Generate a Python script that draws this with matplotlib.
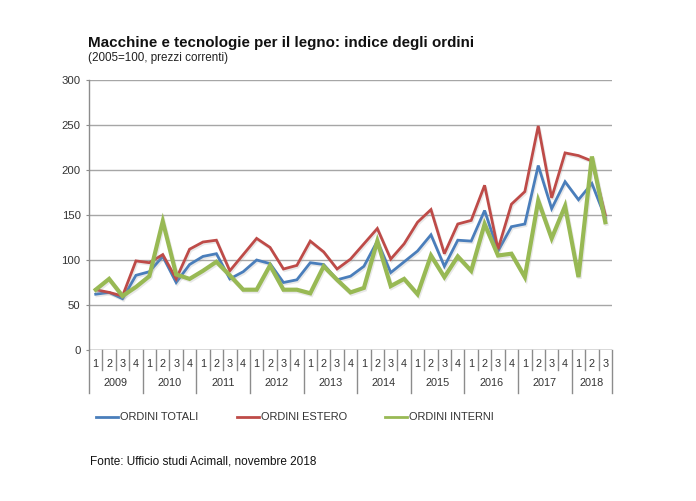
import matplotlib
matplotlib.use("Agg")
import matplotlib.pyplot as plt
import matplotlib.patheffects as pe
from matplotlib.lines import Line2D
import numpy as np

plt.rcParams['font.family'] = ['Liberation Sans', 'DejaVu Sans']

quarters = ['1', '2', '3', '4'] * 9 + ['1', '2', '3']
years = ['2009', '2010', '2011', '2012', '2013', '2014', '2015', '2016', '2017', '2018']
year_lengths = [4] * 9 + [3]

ordini_totali = [62, 64, 57, 83, 87, 104, 75, 95, 104, 107, 79, 87,
                 100, 96, 75, 78, 97, 95, 78, 82, 93, 121, 86, 98,
                 110, 128, 93, 122, 121, 155, 110, 137, 140, 205, 157, 187,
                 167, 185, 147]
ordini_estero = [67, 64, 60, 99, 97, 106, 79, 112, 120, 122, 88, 106,
                 124, 114, 90, 94, 121, 109, 90, 101, 118, 135, 101, 118,
                 142, 156, 107, 140, 144, 183, 112, 162, 176, 249, 169, 219,
                 216, 210, 150]
ordini_interni = [67, 79, 60, 70, 82, 143, 84, 79, 88, 98, 83, 67,
                  67, 94, 67, 67, 63, 93, 78, 64, 69, 121, 71, 79,
                  62, 105, 81, 104, 88, 140, 105, 107, 81, 166, 124, 160,
                  81, 215, 142]

series_names = ['ORDINI TOTALI', 'ORDINI ESTERO', 'ORDINI INTERNI']
colors = ['#4A7EBB', '#BE4B48', '#98B954']
widths = [2.0, 2.0, 3.0]

W, H = 696, 501
fig = plt.figure(figsize=(W / 100, H / 100), dpi=100)
ax = fig.add_axes([89 / W, 1 - 350 / H, (612 - 89) / W, 270 / H])

x = np.arange(len(quarters))
data = [ordini_totali, ordini_estero, ordini_interni]
order = [2, 0, 1]
for k in order:
    ax.plot(x, data[k], color=colors[k], lw=widths[k], solid_joinstyle='miter',
            zorder=3 + k,
            path_effects=[pe.SimpleLineShadow(offset=(0.8, -1.2), shadow_color='#999999', alpha=0.22),
                          pe.Normal()])

ax.set_xlim(-0.5, len(quarters) - 0.5)
ax.set_ylim(0, 300)
ax.set_yticks(np.arange(0, 301, 50))
ax.yaxis.grid(True, color='#A6A6A6', lw=1.0)
ax.set_axisbelow(True)
for s in ['top', 'right', 'bottom']:
    ax.spines[s].set_visible(False)
ax.spines['left'].set_color('#8C8C8C')
ax.spines['left'].set_linewidth(1.0)
ax.tick_params(axis='y', length=2.5, color='#8C8C8C', labelsize=8.2, labelcolor='#333333', pad=3.5)
ax.set_xticks([])

ax.axhline(0, color='#8C8C8C', lw=1.0, zorder=2)

trans = ax.get_xaxis_transform()


def ay(py):
    return (350 - py) / 270.0


for i, q in enumerate(quarters):
    ax.text(i, ay(364), q, transform=trans, ha='center', va='center',
            fontsize=7.8, color='#333333', clip_on=False)
boundaries = [-0.5]
acc = -0.5
for L in year_lengths:
    acc += L
    boundaries.append(acc)
for i in range(len(quarters) + 1):
    b = i - 0.5
    if b in boundaries:
        ax.plot([b, b], [ay(350), ay(393)], transform=trans, color='#8C8C8C', lw=1.0, clip_on=False)
    else:
        ax.plot([b, b], [ay(350), ay(370)], transform=trans, color='#8C8C8C', lw=1.0, clip_on=False)
for j, yr in enumerate(years):
    c = (boundaries[j] + boundaries[j + 1]) / 2
    ax.text(c, ay(383), yr, transform=trans, ha='center', va='center',
            fontsize=7.8, color='#333333', clip_on=False)

fig.text(88 / W, 1 - 43 / H, 'Macchine e tecnologie per il legno: indice degli ordini',
         fontsize=10.9, fontweight='bold', ha='left', va='center', color='#111111')
fig.text(88 / W, 1 - 57.5 / H, '(2005=100, prezzi correnti)',
         fontsize=8.4, ha='left', va='center', color='#222222')

leg_x = [96, 237, 385]
for k in range(3):
    x0 = leg_x[k]
    fig.add_artist(Line2D([x0 / W, (x0 + 22) / W], [1 - 417 / H, 1 - 417 / H],
                          color=colors[k], lw=2.0))
    fig.text((x0 + 24) / W, 1 - 417 / H, series_names[k], fontsize=7.9,
             ha='left', va='center', color='#333333')

fig.text(90 / W, 1 - 462 / H, 'Fonte: Ufficio studi Acimall, novembre 2018',
         fontsize=8.5, ha='left', va='center', color='#111111')

fig.savefig('out.png', dpi=100)
